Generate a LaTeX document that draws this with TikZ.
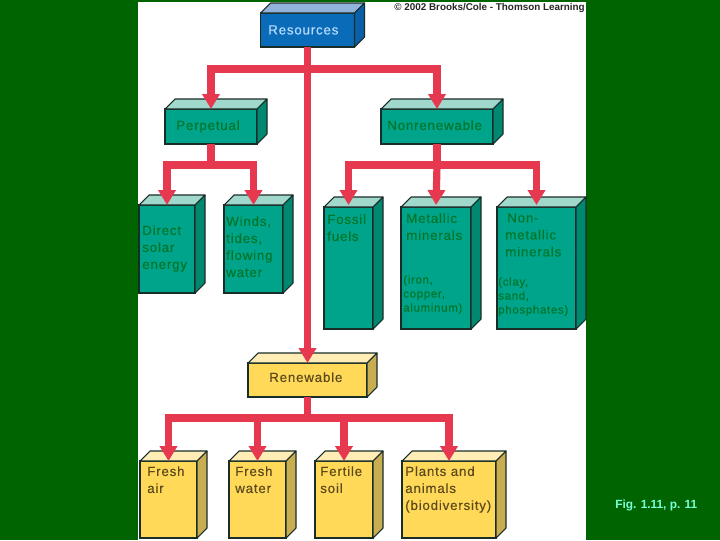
\documentclass[tikz,border=0pt]{standalone}
\usepackage{fontspec}
\setmainfont{Liberation Sans}
\newfontfamily\lab[LetterSpace=6,FakeBold=0.25]{Liberation Sans}
\usetikzlibrary{arrows.meta}
\definecolor{bgreen}{RGB}{0,100,0}
\definecolor{redc}{RGB}{230,57,80}
\definecolor{tealf}{RGB}{0,164,138}
\definecolor{tealt}{RGB}{160,216,204}
\definecolor{teals}{RGB}{0,136,112}
\definecolor{tealx}{RGB}{0,118,42}
\definecolor{bluef}{RGB}{10,108,184}
\definecolor{bluet}{RGB}{146,180,220}
\definecolor{blues}{RGB}{10,96,168}
\definecolor{bluex}{RGB}{184,220,255}
\definecolor{yelf}{RGB}{255,217,87}
\definecolor{yelt}{RGB}{255,237,181}
\definecolor{yels}{RGB}{200,174,80}
\definecolor{yelx}{RGB}{92,74,30}
\definecolor{edge}{RGB}{25,45,40}
\tikzset{
  face/.style={draw=edge,line width=0.8pt,inner sep=0pt,outer sep=0pt,anchor=north west},
  conn/.style={draw=redc,line width=5.4pt},
  arrowconn/.style={conn,-{Triangle[width=12.75pt,length=11.25pt,fill=redc]}},
  lbl/.style={anchor=north west,inner sep=0pt,align=left,font=\lab\fontsize{10}{12.75}\selectfont},
  sml/.style={anchor=north west,inner sep=0pt,align=left,font=\lab\fontsize{8.6}{10.5}\selectfont},
}
% name, x0, y0, x1, y1, colour prefix
\newcommand{\cuboid}[6]{%
  \pgfmathsetmacro{\cubw}{(#4-#2)*0.75}%
  \pgfmathsetmacro{\cubh}{(#5-#3)*0.75}%
  \node[face,fill=#6f,minimum width=\cubw pt,minimum height=\cubh pt] (#1) at (#2,#3) {};
  \draw[draw=edge,line width=0.8pt,fill=#6t,line join=round] (#1.north west) -- ++(10,-10) -- ++({#4-#2},0) -- ++(-10,10) -- cycle;
  \draw[draw=edge,line width=0.8pt,fill=#6s,line join=round] (#1.north east) -- ++(10,-10) -- ++(0,{#5-#3}) -- ++(-10,10) -- cycle;
}
\begin{document}
\begin{tikzpicture}[x=0.75pt,y=-0.75pt]
\useasboundingbox (0,0) rectangle (720,540);
\fill[bgreen] (0,0) rectangle (720,540);
\fill[white] (138,2) rectangle (586,540);

\cuboid{res}{260.5}{13}{354.5}{47}{blue}
\cuboid{perp}{165}{109}{257}{144}{teal}
\cuboid{nonren}{381}{109}{493}{144}{teal}
\cuboid{direct}{139}{205}{195}{293}{teal}
\cuboid{winds}{224}{205}{283}{293}{teal}
\cuboid{fossil}{324}{207}{373}{329}{teal}
\cuboid{metal}{401}{207}{471}{329}{teal}
\cuboid{nonmet}{497}{207}{576}{329}{teal}
\cuboid{ren}{248}{363}{367}{397}{yel}
\cuboid{air}{140}{461}{197}{538}{yel}
\cuboid{water}{229}{461}{286}{538}{yel}
\cuboid{soil}{315}{461}{373}{538}{yel}
\cuboid{life}{402}{461}{496}{538}{yel}

\coordinate (jtop) at (307.5,69);
\coordinate (jperp) at (211,165);
\coordinate (jnon) at (437,165);
\coordinate (jren) at (307.5,418);

\draw[conn] (res.south) -- (jtop);
\draw[arrowconn] (jtop) -| (perp.north);
\draw[arrowconn] (jtop) -| (nonren.north);
\draw[arrowconn] (res.south) -- (ren.north);

\draw[conn] (perp.south) -- (jperp);
\draw[arrowconn] (jperp) -| (direct.north);
\draw[arrowconn] (jperp) -| (winds.north);

\draw[conn] (nonren.south) -- (jnon);
\draw[arrowconn,shorten >=1.5pt] (jnon) -| (fossil.north);
\draw[arrowconn,shorten >=1.5pt] (jnon) -- (metal.north);
\draw[arrowconn,shorten >=1.5pt] (jnon) -| (nonmet.north);

\draw[conn] (ren.south) -- (jren);
\draw[arrowconn] (jren) -| (air.north);
\draw[arrowconn] (jren) -| (water.north);
\draw[arrowconn] (jren) -| (soil.north);
\draw[arrowconn] (jren) -| (life.north);

\node[lbl,text=bluex] (tres) at (268,25) {Resources};
\node[lbl,text=tealx] (tperp) at (176,120) {Perpetual};
\node[lbl,text=tealx] (tnon) at (387,120) {Nonrenewable};
\node[lbl,text=tealx] (tdirect) at (142,225) {Direct\\solar\\energy};
\node[lbl,text=tealx] (twinds) at (226,216) {Winds,\\tides,\\flowing\\water};
\node[lbl,text=tealx] (tfossil) at (327,214) {Fossil\\fuels};
\node[lbl,text=tealx] (tmetal) at (406,213) {Metallic\\minerals};
\node[lbl,text=tealx] (tnonm) at (505,213) {\hspace{1.5pt}Non-\\metallic\\minerals};
\node[sml,text=tealx] (tiron) at (403,275) {(iron,\\copper,\\aluminum)};
\node[sml,text=tealx] (tclay) at (498,277) {(clay,\\sand,\\phosphates)};
\node[lbl,text=yelx] (tren) at (269,372) {Renewable};
\node[lbl,text=yelx] (tair) at (147,466) {Fresh\\air};
\node[lbl,text=yelx] (twater) at (235,466) {Fresh\\water};
\node[lbl,text=yelx] (tsoil) at (320,466) {Fertile\\soil};
\node[lbl,text=yelx] (tlife) at (405,466) {Plants and\\animals\\(biodiversity)};

\node[anchor=east,inner sep=0pt,font=\bfseries\fontsize{7.4}{8}\selectfont,text=black!85] (copy) at (585,7.5) {© 2002 Brooks/Cole - Thomson Learning};
\node[anchor=west,inner sep=0pt,font=\bfseries\fontsize{8.9}{10}\selectfont,text={rgb,255:red,120;green,255;blue,215}] (fig) at (615,505) {Fig. 1.11, p. 11};
\end{tikzpicture}
\end{document}
